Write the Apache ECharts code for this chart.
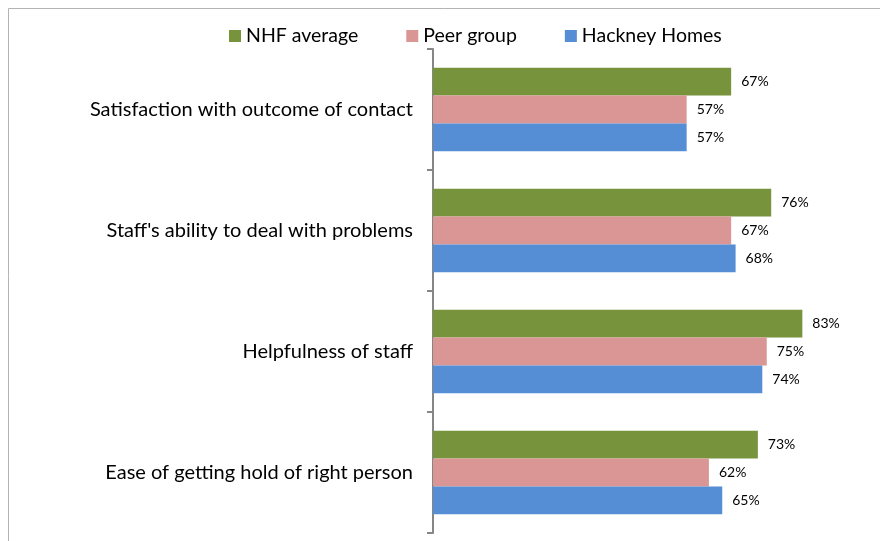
<!DOCTYPE html>
<html>
<head>
<meta charset="utf-8">
<script src="https://cdn.jsdelivr.net/npm/echarts@6/dist/echarts.min.js"></script>
<style>
 html, body { margin: 0; padding: 0; background: #fff; }
 #chart { width: 880px; height: 541px; }
</style>
</head>
<body>
<div id="chart"></div>
<script type="text/javascript">
// categories, top to bottom
var categories = [
 'Satisfaction with outcome of contact',
 "Staff's ability to deal with problems",
 'Helpfulness of staff',
 'Ease of getting hold of right person'
];
var seriesNames = ['NHF average', 'Peer group', 'Hackney Homes'];
var nhfAverage = [67, 76, 83, 73];
var peerGroup = [57, 67, 75, 62];
var hackneyHomes = [57, 68, 74, 65];

var colors = ['#77933C', '#D99694', '#558ED5'];
var font = 'Lato, "Open Sans", sans-serif';

function makeSeries(name, data, color) {
 return {
  name: name,
  type: 'bar',
  data: data,
  barGap: 0,
  barCategoryGap: '31%',
  itemStyle: { color: color },
  label: {
   show: true,
   position: 'right',
   distance: 10,
   formatter: '{c}%',
   color: '#000',
   fontSize: 14,
   fontFamily: font
  },
  animation: false
 };
}

var myChart = echarts.init(document.getElementById('chart'));
myChart.setOption({
 backgroundColor: '#fff',
 graphic: [{
  type: 'rect',
  shape: { x: 8.5, y: 8.5, width: 900, height: 600 },
  style: { fill: 'none', stroke: '#b3b3b3', lineWidth: 1 },
  silent: true
 }],
 legend: {
  data: seriesNames,
  left: 224,
  top: 21,
  itemWidth: 12,
  itemHeight: 12,
  itemGap: 48,
  icon: 'rect',
  textStyle: { fontSize: 19.5, color: '#000', fontFamily: font }
 },
 grid: { left: 433, right: 2, top: 49, bottom: 8, containLabel: false },
 xAxis: {
  type: 'value',
  min: 0,
  max: 100,
  show: false
 },
 yAxis: {
  type: 'category',
  data: categories,
  inverse: true,
  axisLine: { show: true, lineStyle: { color: '#868686', width: 2 } },
  axisTick: { show: true, length: 6, lineStyle: { color: '#868686', width: 2 } },
  axisLabel: { margin: 20, fontSize: 20, color: '#000', fontFamily: font }
 },
 series: [
  makeSeries(seriesNames[0], nhfAverage, colors[0]),
  makeSeries(seriesNames[1], peerGroup, colors[1]),
  makeSeries(seriesNames[2], hackneyHomes, colors[2])
 ]
});
</script>
</body>
</html>
